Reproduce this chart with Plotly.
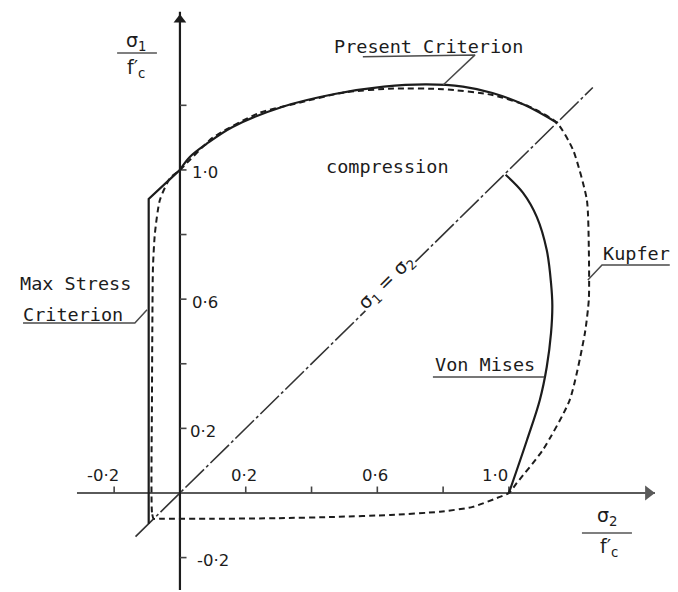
import plotly.graph_objects as go

# Biaxial strength envelopes, stresses normalised by f'c  (sigma2/f'c, sigma1/f'c)
PRESENT_S2 = [0.0, 0.03, 0.08, 0.16, 0.31, 0.47, 0.62, 0.75, 0.86, 0.95, 1.05, 1.146]
PRESENT_S1 = [1.0, 1.04, 1.08, 1.133, 1.195, 1.235, 1.258, 1.265, 1.258, 1.238, 1.20, 1.146]

MAX_STRESS_S2 = [-0.095, -0.095, 0.0]
MAX_STRESS_S1 = [-0.095, 0.91, 1.0]

KUPFER_S2 = [-0.08, -0.085, -0.085, -0.084, -0.082, -0.076, -0.061, -0.03, 0.0, 0.1, 0.24,
             0.35, 0.5, 0.65, 0.8, 0.95, 1.06, 1.146, 1.195, 1.237, 1.243, 1.243,
             1.231, 1.185, 1.103, 1.024, 1.0, 0.97, 0.89, 0.79, 0.64, 0.47, 0.3,
             0.1, -0.06, -0.08]
KUPFER_S1 = [-0.08, -0.06, 0.3, 0.5, 0.70, 0.805, 0.907, 0.975, 1.0, 1.10, 1.176,
             1.205, 1.24, 1.252, 1.25, 1.232, 1.197, 1.146, 1.062, 0.907, 0.752, 0.6,
             0.495, 0.288, 0.133, 0.031, 0.0, -0.013, -0.043, -0.058, -0.068, -0.074, -0.078,
             -0.08, -0.08, -0.08]

VON_MISES_S2 = [1.0, 1.055, 1.094, 1.115, 1.128, 1.132, 1.128, 1.115, 1.085, 1.043, 0.99]
VON_MISES_S1 = [0.0, 0.164, 0.288, 0.39, 0.495, 0.58, 0.65, 0.752, 0.854, 0.929, 0.985]

# Equal-biaxial line sigma1 = sigma2
DIAGONAL = [-0.135, 1.255]

# Axes and ticks
X_AXIS = [-0.313, 1.444]
Y_AXIS = [-0.30, 1.49]
X_TICKS = [-0.2, 0.2, 0.4, 0.6, 0.8, 1.0]
Y_TICKS = [-0.2, 0.2, 0.4, 0.6, 0.8, 1.0, 1.2]
X_TICK_LABELS = {-0.2: "-0·2", 0.2: "0·2", 0.6: "0·6", 1.0: "1·0"}
Y_TICK_LABELS = {1.0: "1·0", 0.6: "0·6", 0.2: "0·2", -0.2: "-0·2"}

INK = "#1c1c1c"
AXIS_GREY = "#5a5a5a"
LETTER_FONT = dict(family="DejaVu Sans Mono", size=18.5, color=INK)
NUM_FONT = dict(family="DejaVu Sans", size=16.5, color=INK)

fig = go.Figure()


def line(xs, ys, width=2.2, color=INK, dash="solid", shape="linear", smoothing=1.0):
    fig.add_trace(go.Scatter(
        x=xs, y=ys, mode="lines", hoverinfo="skip", showlegend=False,
        line=dict(width=width, color=color, dash=dash, shape=shape,
                  smoothing=smoothing if shape == "spline" else None),
    ))


# axes
line(X_AXIS, [0, 0], width=2.2, color=AXIS_GREY)
line([0, 0], Y_AXIS, width=2.2, color=INK)

# arrowheads at the positive ends of the axes
fig.add_trace(go.Scatter(
    x=[X_AXIS[1] - 0.02], y=[0], mode="markers", hoverinfo="skip", showlegend=False,
    marker=dict(symbol="triangle-right", size=13, color=AXIS_GREY, line=dict(width=0)),
))
fig.add_trace(go.Scatter(
    x=[0], y=[Y_AXIS[1] - 0.025], mode="markers", hoverinfo="skip", showlegend=False,
    marker=dict(symbol="triangle-up", size=11, color=INK, line=dict(width=0)),
))

# tick marks: short strokes above the x axis, right of the y axis
tx, ty = [], []
for t in X_TICKS:
    tx += [t, t, None]
    ty += [0, 0.02, None]
line(tx, ty, width=1.6, color="#444")
tx, ty = [], []
for t in Y_TICKS:
    tx += [0, 0.02, None]
    ty += [t, t, None]
line(tx, ty, width=1.6, color="#444")

# sigma1 = sigma2 line
line(DIAGONAL, DIAGONAL, width=1.6, color="#333", dash="26px,3px,3px,3px")

# envelopes
line(KUPFER_S2, KUPFER_S1, width=2.0, color=INK, dash="6px,4px", shape="spline", smoothing=0.6)
line(MAX_STRESS_S2, MAX_STRESS_S1, width=2.2)
line(PRESENT_S2, PRESENT_S1, width=2.2, shape="spline", smoothing=1.0)
line(VON_MISES_S2, VON_MISES_S1, width=2.2, shape="spline", smoothing=1.0)

# label underlines and leaders
LEADER = "#4a4a4a"
line([0.556, 0.897, 0.80], [1.350, 1.356, 1.263], width=1.5, color=LEADER)
line([-0.477, -0.137, -0.10], [0.526, 0.526, 0.567], width=1.5, color=LEADER)
line([0.769, 1.108], [0.359, 0.359], width=1.5, color=LEADER)
line([1.489, 1.283, 1.240], [0.706, 0.706, 0.659], width=1.5, color=LEADER)

# fraction bars of the axis titles
line([-0.191, -0.070], [1.362, 1.362], width=1.5, color="#555")
line([1.222, 1.374], [-0.124, -0.124], width=1.5, color="#555")

ann = []


def text(x, y, s, font=LETTER_FONT, **kw):
    ann.append(dict(x=x, y=y, xref="x", yref="y", text=s, showarrow=False,
                    font=font, **kw))


# tick labels
x_shift = {-0.2: -11, 0.2: -2, 0.6: -2, 1.0: -14}
for v, s in X_TICK_LABELS.items():
    text(v, 0.0, s, font=NUM_FONT, yshift=17, xshift=x_shift[v])
y_left = {1.0: 10, 0.6: 10, 0.2: 8, -0.2: 15}
for v, s in Y_TICK_LABELS.items():
    text(0.0, v, s, font=NUM_FONT, xanchor="left", xshift=y_left[v], yshift=-3)

# curve labels
text(0.757, 1.381, "Present Criterion")
text(0.632, 1.011, "compression")
text(1.389, 0.740, "Kupfer")
text(-0.316, 0.647, "Max Stress")
text(-0.324, 0.554, "Criterion")
text(0.927, 0.399, "Von Mises")
text(0.628, 0.652, "σ<sub>1</sub> = σ<sub>2</sub>",
     font=dict(family="DejaVu Sans", size=19, color=INK),
     textangle=-44.5, bgcolor="white", borderpad=0)

# axis titles
TITLE_FONT = dict(family="DejaVu Sans", size=19, color=INK)
text(-0.133, 1.398, "σ<sub>1</sub>", font=TITLE_FONT)
text(-0.135, 1.315, "f′<sub>c</sub>", font=TITLE_FONT)
text(1.301, -0.074, "σ<sub>2</sub>", font=TITLE_FONT)
text(1.305, -0.168, "f′<sub>c</sub>", font=TITLE_FONT)

fig.update_layout(
    width=678, height=592,
    margin=dict(l=0, r=0, t=0, b=0),
    paper_bgcolor="white", plot_bgcolor="white",
    xaxis=dict(range=[-0.547, 1.514], visible=False, fixedrange=True),
    yaxis=dict(range=[-0.3065, 1.526], visible=False, fixedrange=True),
    annotations=ann,
    showlegend=False,
)

fig.write_html("out.html")
